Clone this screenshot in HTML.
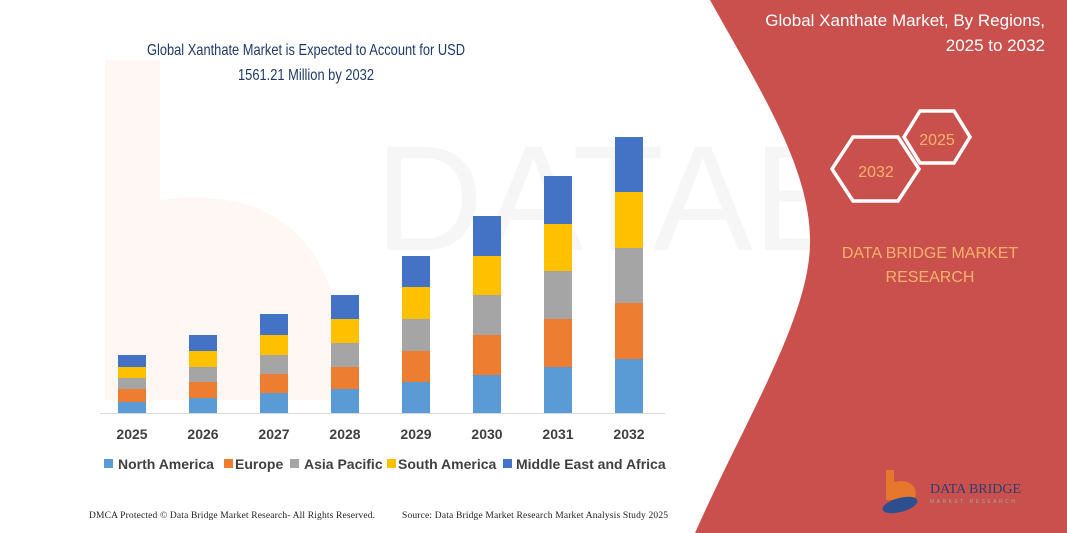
<!DOCTYPE html>
<html><head><meta charset="utf-8"><style>
html,body{margin:0;padding:0;background:#fff;}
svg{display:block;}
</style></head><body>
<svg width="1067" height="533" viewBox="0 0 1067 533" xmlns="http://www.w3.org/2000/svg">
<rect width="1067" height="533" fill="#fff"/>
<!-- faint watermark -->
<text x="375" y="250" font-family="Liberation Sans, sans-serif" font-size="150" fill="#f6f6f6">DATAB</text>
<path d="M105,60 L160,60 L160,200 C300,180 360,280 330,400 L105,400 Z" fill="#fef7f3"/>
<!-- red panel -->
<path d="M710,0 C760,90 812,170 810,245 C808,320 745,420 695,533 L1067,533 L1067,0 Z" fill="#c9504c"/>
<text font-family="Liberation Sans, sans-serif" font-size="17" fill="#fff" text-anchor="end"><tspan x="1045" y="26">Global Xanthate Market, By Regions,</tspan><tspan x="1045" y="51">2025 to 2032</tspan></text>
<polygon points="904,137 920,111 954,111 970,137 954,163 920,163" fill="none" stroke="#fff" stroke-width="3.5"/>
<polygon points="832,169 853,137 898,137 919,169 898,201 853,201" fill="none" stroke="#fff" stroke-width="3.5"/>
<text x="937" y="145" font-family="Liberation Sans, sans-serif" font-size="16" fill="#f7b26a" text-anchor="middle">2025</text>
<text x="876" y="177" font-family="Liberation Sans, sans-serif" font-size="16" fill="#f7b26a" text-anchor="middle">2032</text>
<text font-family="Liberation Sans, sans-serif" font-size="16" fill="#f7b26a" text-anchor="middle"><tspan x="930" y="258">DATA BRIDGE MARKET</tspan><tspan x="930" y="282">RESEARCH</tspan></text>
<!-- logo -->
<path d="M886,470 L894,470 L894,482 C910,478 920,488 914,500 L886,500 Z" fill="#e8772e"/>
<ellipse cx="900" cy="505" rx="18" ry="7" fill="#2d4f8f" transform="rotate(-15 900 505)"/>
<text x="930" y="493" font-family="Liberation Serif, serif" font-size="14" fill="#2d3f6e">DATA BRIDGE</text>
<text x="930" y="503" font-family="Liberation Sans, sans-serif" font-size="5" fill="#9aa" letter-spacing="2.5">MARKET RESEARCH</text>
<!-- chart title -->
<text font-family="Liberation Sans, sans-serif" font-size="16" fill="#1f3a6a" text-anchor="middle"><tspan x="306" y="55" textLength="318" lengthAdjust="spacingAndGlyphs">Global Xanthate Market is Expected to Account for USD</tspan><tspan x="306" y="80" textLength="136" lengthAdjust="spacingAndGlyphs">1561.21 Million by 2032</tspan></text>
<!-- axis -->
<line x1="100" y1="413.5" x2="665" y2="413.5" stroke="#d9d9d9" stroke-width="1"/>
<g id="bars">
<rect x="118" y="402" width="28" height="11" fill="#5b9bd5"/><rect x="118" y="389" width="28" height="13" fill="#ed7d31"/><rect x="118" y="378" width="28" height="11" fill="#a5a5a5"/><rect x="118" y="367" width="28" height="11" fill="#ffc000"/><rect x="118" y="355" width="28" height="12" fill="#4472c4"/>
<rect x="189" y="398" width="28" height="15" fill="#5b9bd5"/><rect x="189" y="382" width="28" height="16" fill="#ed7d31"/><rect x="189" y="367" width="28" height="15" fill="#a5a5a5"/><rect x="189" y="351" width="28" height="16" fill="#ffc000"/><rect x="189" y="335" width="28" height="16" fill="#4472c4"/>
<rect x="260" y="393" width="28" height="20" fill="#5b9bd5"/><rect x="260" y="374" width="28" height="19" fill="#ed7d31"/><rect x="260" y="355" width="28" height="19" fill="#a5a5a5"/><rect x="260" y="335" width="28" height="20" fill="#ffc000"/><rect x="260" y="314" width="28" height="21" fill="#4472c4"/>
<rect x="331" y="389" width="28" height="24" fill="#5b9bd5"/><rect x="331" y="367" width="28" height="22" fill="#ed7d31"/><rect x="331" y="343" width="28" height="24" fill="#a5a5a5"/><rect x="331" y="319" width="28" height="24" fill="#ffc000"/><rect x="331" y="295" width="28" height="24" fill="#4472c4"/>
<rect x="402" y="382" width="28" height="31" fill="#5b9bd5"/><rect x="402" y="351" width="28" height="31" fill="#ed7d31"/><rect x="402" y="319" width="28" height="32" fill="#a5a5a5"/><rect x="402" y="287" width="28" height="32" fill="#ffc000"/><rect x="402" y="256" width="28" height="31" fill="#4472c4"/>
<rect x="473" y="375" width="28" height="38" fill="#5b9bd5"/><rect x="473" y="335" width="28" height="40" fill="#ed7d31"/><rect x="473" y="295" width="28" height="40" fill="#a5a5a5"/><rect x="473" y="256" width="28" height="39" fill="#ffc000"/><rect x="473" y="216" width="28" height="40" fill="#4472c4"/>
<rect x="544" y="367" width="28" height="46" fill="#5b9bd5"/><rect x="544" y="319" width="28" height="48" fill="#ed7d31"/><rect x="544" y="271" width="28" height="48" fill="#a5a5a5"/><rect x="544" y="224" width="28" height="47" fill="#ffc000"/><rect x="544" y="176" width="28" height="48" fill="#4472c4"/>
<rect x="615" y="359" width="28" height="54" fill="#5b9bd5"/><rect x="615" y="303" width="28" height="56" fill="#ed7d31"/><rect x="615" y="248" width="28" height="55" fill="#a5a5a5"/><rect x="615" y="192" width="28" height="56" fill="#ffc000"/><rect x="615" y="137" width="28" height="55" fill="#4472c4"/>
</g>
<g font-family="Liberation Sans, sans-serif" font-size="14" font-weight="bold" fill="#404040" text-anchor="middle">
<text x="132" y="439">2025</text><text x="203" y="439">2026</text><text x="274" y="439">2027</text><text x="345" y="439">2028</text><text x="416" y="439">2029</text><text x="487" y="439">2030</text><text x="558" y="439">2031</text><text x="629" y="439">2032</text>
</g>
<g font-family="Liberation Sans, sans-serif" font-size="14" font-weight="bold" fill="#404040">
<rect x="104" y="459" width="9" height="9" fill="#5b9bd5"/><text x="118" y="469">North America</text>
<rect x="224" y="459" width="9" height="9" fill="#ed7d31"/><text x="235" y="469">Europe</text>
<rect x="290" y="459" width="9" height="9" fill="#a5a5a5"/><text x="304" y="469">Asia Pacific</text>
<rect x="387" y="459" width="9" height="9" fill="#ffc000"/><text x="398" y="469">South America</text>
<rect x="503" y="459" width="9" height="9" fill="#4472c4"/><text x="516" y="469">Middle East and Africa</text>
</g>
<g font-family="Liberation Serif, serif" font-size="9.5" fill="#222">
<text x="89" y="518" textLength="286">DMCA Protected © Data Bridge Market Research-  All Rights Reserved.</text>
<text x="402" y="518" textLength="266">Source: Data Bridge Market Research  Market Analysis Study 2025</text>
</g>
</svg>
</body></html>
